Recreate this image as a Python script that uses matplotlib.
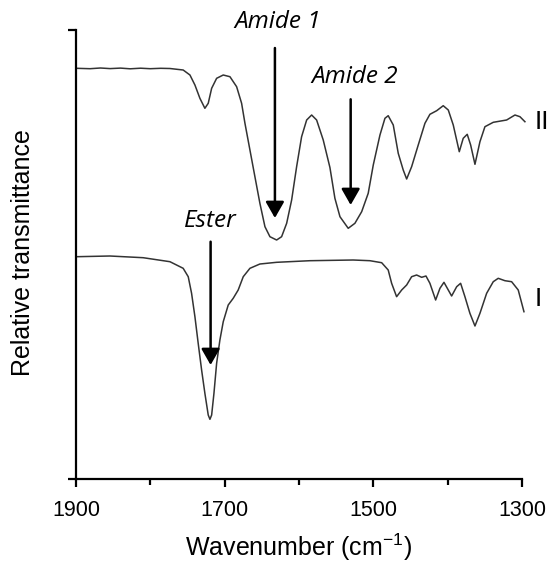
import matplotlib
matplotlib.use("Agg")
import matplotlib.pyplot as plt

plt.rcParams["font.family"] = ["Liberation Sans", "DejaVu Sans"]
plt.rcParams["mathtext.fontset"] = "custom"
plt.rcParams["mathtext.rm"] = "Liberation Sans"
plt.rcParams["mathtext.default"] = "regular"

# Spectrum II (top), relative transmittance in arbitrary units
wn_II = [1899, 1881, 1867, 1854, 1840, 1827, 1813, 1800, 1786, 1773.5, 1755.7, 1746.6, 1739.9,
         1733.2, 1726.5, 1722, 1717.4, 1710.7, 1701.8, 1692.8, 1683.8, 1677.1, 1672.6,
         1665.9, 1659.2, 1652.5, 1645.7, 1639, 1630, 1623.3, 1616.5, 1609.8, 1603.1,
         1596.4, 1589.6, 1582.9, 1576.2, 1567.3, 1558.3, 1551.6, 1544.8, 1533.7, 1524.7,
         1515.6, 1506.8, 1500, 1491, 1484.3, 1479.9, 1473.1, 1466.4, 1459.7, 1455.1,
         1448.4, 1439.5, 1430.5, 1423.8, 1414.7, 1405.9, 1399.1, 1392.4, 1384.3, 1379,
         1373.6, 1369, 1363.2, 1356.5, 1349.8, 1338.6, 1320.6, 1309.4, 1302.7, 1296]
T_II = [410.7, 410.3, 411.0, 410.4, 410.9, 410.2, 410.8, 410.3, 410.7, 410.5, 409, 404, 394,
        380.7, 370.7, 375.7, 390.7, 400.7, 404, 402.3, 392.3, 375.7, 355.7,
        329, 302.3, 275.7, 252.3, 242.3, 239, 242.3, 255.7, 279, 312.3,
        342.3, 359, 364, 359, 339, 311.5, 280.7, 262.3, 250.7, 255.7,
        267.3, 285.7, 314, 344, 360.7, 363.3, 354, 325.7, 309, 300,
        312.3, 334, 355.7, 364.7, 368.3, 373.3, 369, 354, 327.3, 340.7,
        344.7, 334, 314.7, 337.3, 352.3, 356.7, 359, 364, 362.3, 357.3]

# Spectrum I (bottom)
wn_I = [1899, 1854.3, 1809.5, 1773.5, 1755.7, 1748.9, 1744.4, 1739.9, 1735.5, 1730.9, 1726.5,
        1722, 1719.7, 1717.4, 1714.3, 1710.7, 1706.3, 1701.8, 1695.1, 1688.4, 1681.7,
        1674.9, 1665.9, 1652.5, 1630, 1585.2, 1527, 1504.5, 1488.7, 1479.9, 1475.3,
        1468.6, 1461.8, 1455.1, 1448.4, 1441.7, 1434.9, 1429.1, 1423.8, 1416.1, 1410.3,
        1404.9, 1399.1, 1394.6, 1387.8, 1382.5, 1376.7, 1370, 1363.2, 1356.5, 1347.5,
        1338.6, 1331.9, 1322.9, 1313.9, 1305, 1297.3]
T_I = [222.3, 223, 221.3, 217.3, 210.7, 202.3, 185.7, 162.3, 135.7, 109, 85.7,
       64, 59.7, 64, 85.7, 115.7, 139, 157.3, 174, 180.7, 189,
       202.3, 210.7, 215, 216.7, 218.3, 219, 218.3, 216.3, 209, 195.7,
       182.3, 189, 194, 202.3, 204, 201.7, 203, 195.7, 179, 190.7,
       196.7, 189, 183, 192.3, 195.7, 182.3, 165.7, 153, 165.7, 185.7,
       197.3, 200.7, 198.3, 197.3, 189, 167.3]

# Annotations
ann_labels = ["Amide 1", "Amide 2", "Ester"]
ann_wn = [1632.3, 1530.4, 1718.8]
ann_top = [431, 379.7, 237.3]
ann_tip = [261, 274, 114]
ann_text_wn = [1628, 1524.5, 1719]
ann_text_y = [451, 396, 252]

spec_labels = ["II", "I"]
spec_label_y = [357, 180]

xticks_major = [1900, 1700, 1500, 1300]
xticks_minor = [1800, 1600, 1400]

fig = plt.figure(figsize=(5.5, 5.64), dpi=100)
ax = fig.add_axes([0.138, 0.1507, 0.811, 0.7961])

lc = "#333333"
ax.plot(wn_II, T_II, color=lc, lw=1.1, clip_on=False)
ax.plot(wn_I, T_I, color=lc, lw=1.1, clip_on=False)

ax.set_xlim(1900, 1300)
ax.set_ylim(0, 449)

for w, top, tip in zip(ann_wn, ann_top, ann_tip):
    ax.annotate("", xy=(w, tip), xytext=(w, top),
                arrowprops=dict(arrowstyle="-|>,head_length=0.7,head_width=0.4",
                                color="black", lw=1.8, shrinkA=0, shrinkB=0,
                                mutation_scale=14), annotation_clip=False)
for lab, tw, ty in zip(ann_labels, ann_text_wn, ann_text_y):
    ax.text(tw, ty, lab, ha="center", va="baseline", fontsize=17.5, style="italic",
            family="Open Sans", clip_on=False)

for lab, ly in zip(spec_labels, spec_label_y):
    ax.text(1282.5, ly, lab, ha="left", va="center", fontsize=19, clip_on=False)

for s in ["top", "right"]:
    ax.spines[s].set_visible(False)
for s in ["left", "bottom"]:
    ax.spines[s].set_linewidth(1.6)

ax.set_xticks(xticks_major)
ax.set_xticks(xticks_minor, minor=True)
ax.set_xticklabels([str(v) for v in xticks_major])
ax.set_yticks([0, 449])
ax.set_yticklabels([])
ax.tick_params(axis="x", which="major", direction="out", length=6, width=1.6,
               labelsize=15.5, pad=9)
ax.tick_params(axis="x", which="minor", direction="out", length=4, width=1.6)
ax.tick_params(axis="y", which="major", direction="out", length=6, width=1.6)

ax.set_xlabel("Wavenumber (cm$^{-1}$)", fontsize=18)
ax.set_ylabel("Relative transmittance", fontsize=18)
ax.xaxis.set_label_coords(0.5, (479 - 547) / 449)
ax.xaxis.label.set_va("center")
ax.yaxis.set_label_coords((23 - 76) / 446, 0.505)
ax.yaxis.label.set_va("center")

fig.savefig("out.png", dpi=100)
